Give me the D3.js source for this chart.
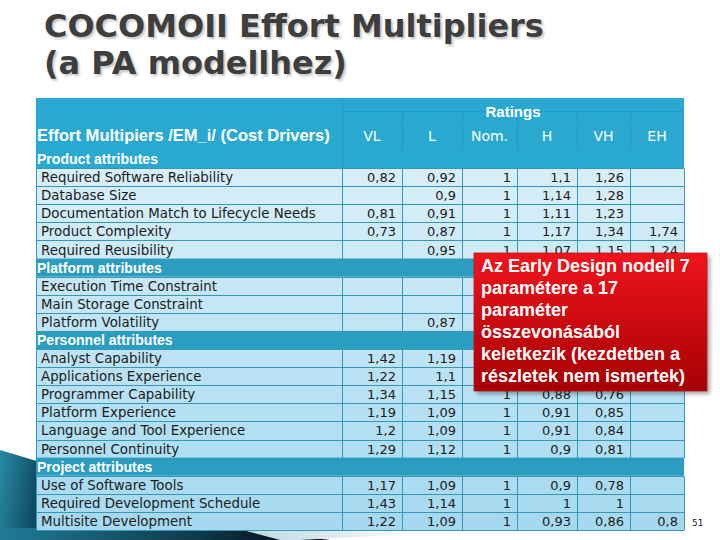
<!DOCTYPE html>
<html><head><meta charset="utf-8">
<script src="https://cdn.jsdelivr.net/npm/d3@7/dist/d3.min.js"></script>
<style>body{margin:0;background:#fff;overflow:hidden}</style>
</head><body><svg id="c" width="720" height="540"></svg>
<script>
// ---------- data ----------
const titleLines = ["COCOMOII Effort Multipliers", "(a PA modellhez)"];
const headerLabel = "Effort Multipiers /EM_i/ (Cost Drivers)";
const ratingsTitle = "Ratings";
const ratings = ["VL", "L", "Nom.", "H", "VH", "EH"];
const groups = ["Product attributes", "Platform attributes", "Personnel attributes", "Project attributes"];
const drivers = [
  "Required Software Reliability", "Database Size", "Documentation Match to Lifecycle Needs",
  "Product Complexity", "Required Reusibility",
  "Execution Time Constraint", "Main Storage Constraint", "Platform Volatility",
  "Analyst Capability", "Applications Experience", "Programmer Capability",
  "Platform Experience", "Language and Tool Experience", "Personnel Continuity",
  "Use of Software Tools", "Required Development Schedule", "Multisite Development"
];
const driverGroup = [0,0,0,0,0, 1,1,1, 2,2,2,2,2,2, 3,3,3];
const valVL  = [0.82, null, 0.81, 0.73, null,  null, null, null,  1.42, 1.22, 1.34, 1.19, 1.2, 1.29,  1.17, 1.43, 1.22];
const valL   = [0.92, 0.9, 0.91, 0.87, 0.95,  null, null, 0.87,  1.19, 1.1, 1.15, 1.09, 1.09, 1.12,  1.09, 1.14, 1.09];
const valNom = [1, 1, 1, 1, 1,  1, 1, 1,  1, 1, 1, 1, 1, 1,  1, 1, 1];
const valH   = [1.1, 1.14, 1.11, 1.17, 1.07,  1.11, 1.05, 1.15,  0.85, 0.88, 0.88, 0.91, 0.91, 0.9,  0.9, 1, 0.93];
const valVH  = [1.26, 1.28, 1.23, 1.34, 1.15,  1.29, 1.17, 1.3,  0.71, 0.81, 0.76, 0.85, 0.84, 0.81,  0.78, 1, 0.86];
const valEH  = [null, null, null, 1.74, 1.24,  1.63, 1.46, null,  null, null, null, null, null, null,  null, null, 0.8];
const calloutLines = [
  "Az Early Design nodell 7", "paramétere a 17", "paraméter",
  "összevonásából", "keletkezik (kezdetben a", "részletek nem ismertek)"
];
const pageNumber = "51";

// ---------- layout ----------
const svg = d3.select("#c");
const defs = svg.append("defs");
const columns = [valVL, valL, valNom, valH, valVH, valEH];

const T = {x0: 36, x1: 684, top: 98, headBottom: 150, bottom: 530};
const colEdges = [342, 402, 462, 517, 577, 630, 684];
const xStart = d3.scaleOrdinal().domain(ratings).range(colEdges.slice(0, 6));
const xEnd = d3.scaleOrdinal().domain(ratings).range(colEdges.slice(1));

const rows = [];
groups.forEach((g, gi) => {
  rows.push({type: "group", name: g, gi});
  drivers.forEach((d, i) => { if (driverGroup[i] === gi) rows.push({type: "row", name: d, i}); });
});
const y = d3.scaleBand().domain(d3.range(rows.length)).range([T.headBottom, T.bottom]);
const rowColor = d3.scaleLinear().domain([T.headBottom + y.bandwidth(), T.bottom])
  .range(["#d7eef9", "#a3d8ef"]).interpolate(d3.interpolateRgb);

const headColor = "#2aa9d0", groupColor = "#2a9dc0", gridColor = "#3598ba";
const fmt = v => String(v).replace(".", ",");

function fit(sel, width) {
  const n = sel.node();
  const fs = parseFloat(sel.attr("font-size"));
  const w = n.getComputedTextLength();
  sel.attr("font-size", (fs * width / w).toFixed(2));
  return fs * width / w;
}

// ---------- gradients ----------
const gRed = defs.append("linearGradient").attr("id", "red").attr("x1", 0).attr("y1", 0).attr("x2", 0).attr("y2", 1);
gRed.append("stop").attr("offset", 0).attr("stop-color", "#f0141c");
gRed.append("stop").attr("offset", 1).attr("stop-color", "#a50003");
const gTeal = defs.append("linearGradient").attr("id", "teal").attr("x1", 0).attr("y1", 0).attr("x2", 1).attr("y2", 0.3);
gTeal.append("stop").attr("offset", 0).attr("stop-color", "#2a8aa6");
gTeal.append("stop").attr("offset", 1).attr("stop-color", "#0d4a60");
const gDark = defs.append("linearGradient").attr("id", "dark").attr("x1", 0).attr("y1", 0).attr("x2", 1).attr("y2", 0);
gDark.append("stop").attr("offset", 0).attr("stop-color", "#1f7c98");
gDark.append("stop").attr("offset", 0.6).attr("stop-color", "#0e3a4a");
gDark.append("stop").attr("offset", 1).attr("stop-color", "#000");
const gLight = defs.append("linearGradient").attr("id", "light").attr("x1", 0).attr("y1", 0).attr("x2", 1).attr("y2", 0);
gLight.append("stop").attr("offset", 0).attr("stop-color", "#b8d6df");
gLight.append("stop").attr("offset", 1).attr("stop-color", "#ffffff");
const blur = defs.append("filter").attr("id", "blur").attr("x", -0.1).attr("y", -0.1).attr("width", 1.3).attr("height", 1.3);
blur.append("feGaussianBlur").attr("stdDeviation", 2);
const tshadow = defs.append("filter").attr("id", "tshadow");
tshadow.append("feGaussianBlur").attr("stdDeviation", 1.2);

// ---------- decorations ----------
const deco = svg.append("g");
deco.append("path").attr("d", "M0,450 L40,462 L40,540 L0,540 Z").attr("fill", "url(#teal)");
deco.append("path").attr("d", "M0,528 L230,528 L330,540 L0,540 Z").attr("fill", "url(#dark)");
deco.append("path").attr("d", "M235,528 L430,533 L300,540 L280,540 Z").attr("fill", "url(#light)");

// ---------- title ----------
const title = svg.append("g").attr("font-family", "DejaVu Sans").attr("font-weight", "bold").attr("font-size", 32);
let titleFs = 32;
titleLines.forEach((t, k) => {
  const by = k === 0 ? 37 : 74;
  const sh = title.append("text").attr("x", 46).attr("y", by + 1.5).attr("fill", "#c4c4c4")
    .attr("filter", "url(#tshadow)").text(t);
  const tt = title.append("text").attr("x", 44).attr("y", by).attr("fill", "#3e3e3e").attr("font-size", 32).text(t);
  if (k === 0) titleFs = fit(tt, 500);
  sh.attr("font-size", titleFs);
  tt.attr("font-size", titleFs);
});

// ---------- table ----------
const tb = svg.append("g");
tb.append("rect").attr("x", T.x0).attr("y", T.top).attr("width", T.x1 - T.x0).attr("height", T.headBottom - T.top).attr("fill", headColor);

rows.forEach((r, k) => {
  const y0 = y(k);
  tb.append("rect").attr("x", T.x0).attr("y", y0).attr("width", T.x1 - T.x0).attr("height", y.bandwidth() + 0.5)
    .attr("fill", r.type === "group" ? (r.gi === 0 ? headColor : groupColor) : rowColor(y0));
});

// header faint separators
const hl = tb.append("g").attr("stroke", "#1f93b8").attr("stroke-width", 1).attr("opacity", 0.6);
hl.append("line").attr("x1", 342.5).attr("x2", 342.5).attr("y1", T.top).attr("y2", y(1));
ratings.slice(1).forEach(r => {
  hl.append("line").attr("x1", xStart(r) + 0.5).attr("x2", xStart(r) + 0.5).attr("y1", 111).attr("y2", y(0));
});
hl.append("line").attr("x1", 342).attr("x2", T.x1).attr("y1", 111.5).attr("y2", 111.5);
hl.append("line").attr("x1", 342).attr("x2", T.x1).attr("y1", 126.5).attr("y2", 126.5).attr("opacity", 0.5);

// grid for data rows
const grid = tb.append("g").attr("stroke", gridColor).attr("stroke-width", 1).attr("fill", "none");
rows.forEach((r, k) => {
  if (r.type !== "row") return;
  const y0 = Math.round(y(k)) + 0.5, y1 = Math.round(y(k) + y.bandwidth()) + 0.5;
  grid.append("line").attr("x1", T.x0).attr("x2", T.x1).attr("y1", y0).attr("y2", y0);
  grid.append("line").attr("x1", T.x0).attr("x2", T.x1).attr("y1", y1).attr("y2", y1);
  [T.x0, ...colEdges].forEach(e => {
    grid.append("line").attr("x1", e + 0.5).attr("x2", e + 0.5).attr("y1", y0).attr("y2", y1);
  });
});

// header texts
tb.append("text").attr("x", (xStart("VL") + T.x1) / 2).attr("y", 117).attr("text-anchor", "middle")
  .attr("fill", "#fff").attr("font-family", "Liberation Sans").attr("font-weight", "bold").attr("font-size", 15)
  .text(ratingsTitle);
ratings.forEach(r => {
  tb.append("text").attr("x", (xStart(r) + xEnd(r)) / 2).attr("y", 141).attr("text-anchor", "middle")
    .attr("fill", "#fff").attr("font-family", "DejaVu Sans").attr("font-size", 14).text(r);
});
const hLab = tb.append("text").attr("x", 37).attr("y", 141).attr("fill", "#fff")
  .attr("font-family", "Liberation Sans").attr("font-weight", "bold").attr("font-size", 15).text(headerLabel);
fit(hLab, 293);

// group labels
let groupFs = null;
rows.forEach((r, k) => {
  if (r.type !== "group") return;
  const t = tb.append("text").attr("x", 37).attr("y", y(k) + y.bandwidth() / 2 + 5)
    .attr("fill", "#fff").attr("font-family", "Liberation Sans").attr("font-weight", "bold")
    .attr("font-size", 14).text(r.name);
  if (groupFs === null) groupFs = fit(t, 121); else t.attr("font-size", groupFs);
});

// driver labels
let labFs = null;
const docIdx = drivers.indexOf("Documentation Match to Lifecycle Needs");
const labelSel = [];
rows.forEach((r, k) => {
  if (r.type !== "row") return;
  const t = tb.append("text").attr("x", 41).attr("y", y(k) + y.bandwidth() / 2 + 5)
    .attr("fill", "#1b1b1b").attr("font-family", "DejaVu Sans").attr("font-size", 13).text(r.name);
  labelSel.push(t);
  if (r.i === docIdx) labFs = fit(t, 275);
});
labelSel.forEach(t => t.attr("font-size", labFs));

// values
rows.forEach((r, k) => {
  if (r.type !== "row") return;
  ratings.forEach((rt, c) => {
    const v = columns[c][r.i];
    if (v === null) return;
    tb.append("text").attr("x", xEnd(rt) - 6).attr("y", y(k) + y.bandwidth() / 2 + 5)
      .attr("text-anchor", "end").attr("fill", "#1b1b1b")
      .attr("font-family", "DejaVu Sans").attr("font-size", 13).text(fmt(v));
  });
});

// page number
svg.append("text").attr("x", 692).attr("y", 526).attr("font-family", "DejaVu Sans").attr("font-size", 9)
  .attr("fill", "#222").text(pageNumber);

// ---------- callout ----------
const co = svg.append("g");
const cb = {x: 474, y: 253, w: 233, h: 138};
co.append("rect").attr("x", cb.x + 3).attr("y", cb.y + 3).attr("width", cb.w).attr("height", cb.h)
  .attr("fill", "rgba(0,0,0,0.35)").attr("filter", "url(#blur)");
co.append("rect").attr("x", cb.x).attr("y", cb.y).attr("width", cb.w).attr("height", cb.h)
  .attr("fill", "url(#red)").attr("stroke", "#c0181c").attr("stroke-width", 0.8);
let coFs = null;
calloutLines.forEach((l, k) => {
  const t = co.append("text").attr("x", 481).attr("y", 272 + k * 22).attr("fill", "#fff")
    .attr("font-family", "Liberation Sans").attr("font-weight", "bold").attr("font-size", 18).text(l);
  if (k === 0) coFs = fit(t, 209); else t.attr("font-size", coFs);
});
</script></body></html>
